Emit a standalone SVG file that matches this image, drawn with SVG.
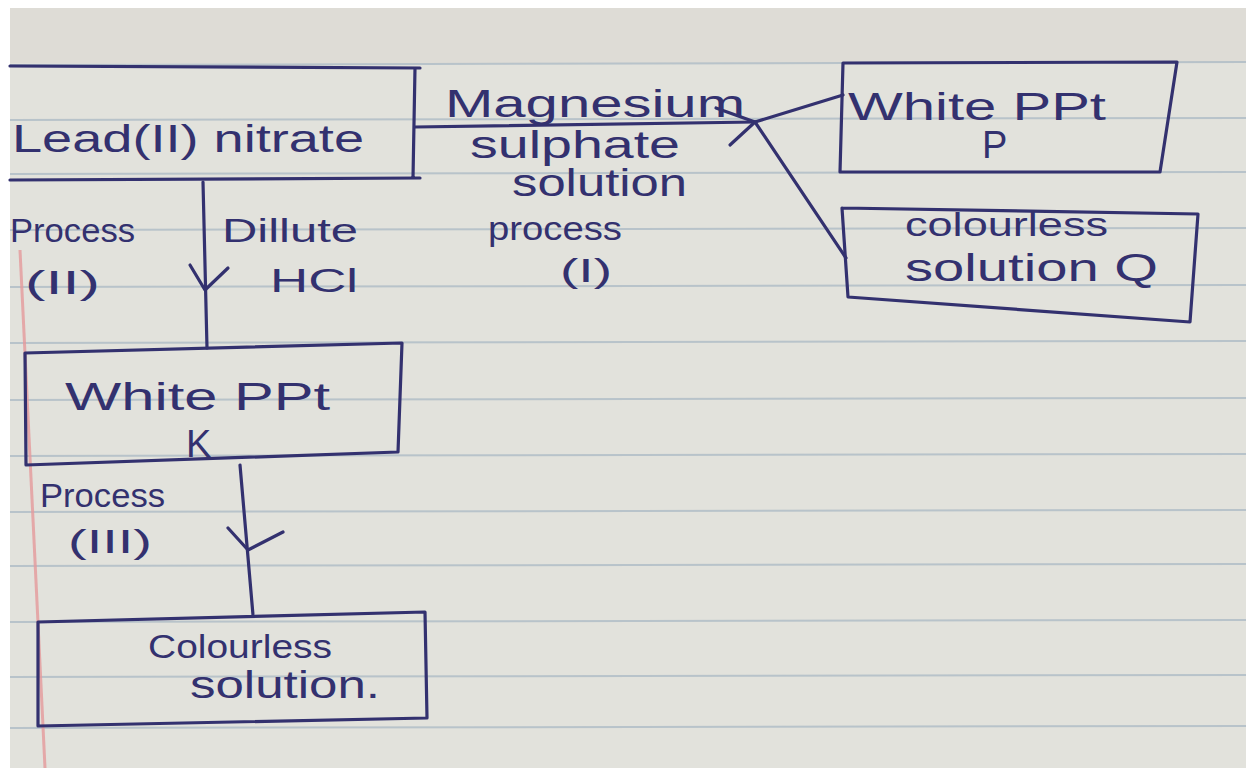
<svg xmlns="http://www.w3.org/2000/svg" width="1246" height="771" viewBox="0 0 1246 771">
<style>
.ink{fill:none;stroke:#33316f;stroke-width:3.2;stroke-linecap:round;stroke-linejoin:round}
.rule{stroke:#aebcc6;stroke-width:2;opacity:0.8}
text{font-family:"Liberation Sans","DejaVu Sans",sans-serif;fill:#33316f;font-size:38px}
.sm{font-size:34px}
</style>
<rect x="0" y="0" width="1246" height="771" fill="#ffffff"/>
<rect x="10" y="8" width="1236" height="760" fill="#e2e2dc"/>
<rect x="10" y="8" width="1236" height="55" fill="#dedcd6"/>
<g id="ruled-lines">
<line class="rule" x1="10" y1="65" x2="1246" y2="62"/>
<line class="rule" x1="10" y1="120" x2="1246" y2="118"/>
<line class="rule" x1="10" y1="174" x2="1246" y2="172"/>
<line class="rule" x1="10" y1="230" x2="1246" y2="228"/>
<line class="rule" x1="10" y1="287" x2="1246" y2="285"/>
<line class="rule" x1="10" y1="343" x2="1246" y2="341"/>
<line class="rule" x1="10" y1="400" x2="1246" y2="398"/>
<line class="rule" x1="10" y1="456" x2="1246" y2="454"/>
<line class="rule" x1="10" y1="512" x2="1246" y2="510"/>
<line class="rule" x1="10" y1="566" x2="1246" y2="564"/>
<line class="rule" x1="10" y1="622" x2="1246" y2="620"/>
<line class="rule" x1="10" y1="677" x2="1246" y2="675"/>
<line class="rule" x1="10" y1="728" x2="1246" y2="726"/>
<line x1="20" y1="250" x2="45" y2="768" stroke="#e59a9c" stroke-width="3" opacity="0.8"/>
</g>
<g id="connectors">
<path class="ink" d="M415 127 L755 122"/>
<path class="ink" d="M716 108 L755 122 L730 145"/>
<path class="ink" d="M755 122 L843 95"/>
<path class="ink" d="M755 122 L846 258"/>
<path class="ink" d="M203 182 L207 348"/>
<path class="ink" d="M190 265 L205 290 L228 268"/>
<path class="ink" d="M240 465 L253 615"/>
<path class="ink" d="M228 528 L248 550 L283 532"/>
</g>
<g id="node-lead-nitrate">
<path class="ink" d="M10 66 L420 68 M415 68 L413 178 M10 180 L420 178"/>
<text x="12" y="152" textLength="352" lengthAdjust="spacingAndGlyphs">Lead(II) nitrate</text>
</g>
<g id="label-magnesium">
<text x="445" y="117" textLength="300" lengthAdjust="spacingAndGlyphs">Magnesium</text>
<text x="470" y="158" textLength="210" lengthAdjust="spacingAndGlyphs">sulphate</text>
<text x="512" y="196" textLength="175" lengthAdjust="spacingAndGlyphs">solution</text>
<text class="sm" x="488" y="240" textLength="134" lengthAdjust="spacingAndGlyphs">process</text>
<text class="sm" x="560" y="282" textLength="52" lengthAdjust="spacingAndGlyphs">(I)</text>
</g>
<g id="node-white-ppt-p">
<path class="ink" d="M843 63 L1177 62 L1160 172 L840 172 L843 63"/>
<text x="848" y="120" textLength="258" lengthAdjust="spacingAndGlyphs">White PPt</text>
<text x="982" y="158">P</text>
</g>
<g id="node-colourless-q">
<path class="ink" d="M842 208 L1198 214 L1190 322 L848 297 L842 208"/>
<text class="sm" x="905" y="236" textLength="203" lengthAdjust="spacingAndGlyphs">colourless</text>
<text x="905" y="281" textLength="253" lengthAdjust="spacingAndGlyphs">solution Q</text>
</g>
<g id="label-process-ii">
<text class="sm" x="10" y="242" textLength="125" lengthAdjust="spacingAndGlyphs">Process</text>
<text class="sm" x="25" y="294" textLength="75" lengthAdjust="spacingAndGlyphs">(II)</text>
<text class="sm" x="222" y="242" textLength="136" lengthAdjust="spacingAndGlyphs">Dillute</text>
<text class="sm" x="270" y="292" textLength="88" lengthAdjust="spacingAndGlyphs">HCl</text>
</g>
<g id="node-white-ppt-k">
<path class="ink" d="M25 353 L402 343 L398 452 L26 465 Z"/>
<text x="65" y="410" textLength="265" lengthAdjust="spacingAndGlyphs">White PPt</text>
<text x="186" y="457">K</text>
</g>
<g id="label-process-iii">
<text class="sm" x="40" y="507" textLength="125" lengthAdjust="spacingAndGlyphs">Process</text>
<text class="sm" x="68" y="553" textLength="84" lengthAdjust="spacingAndGlyphs">(III)</text>
</g>
<g id="node-colourless-solution">
<path class="ink" d="M38 622 L425 612 L427 718 L38 726 Z"/>
<text class="sm" x="148" y="658" textLength="184" lengthAdjust="spacingAndGlyphs">Colourless</text>
<text x="190" y="698" textLength="190" lengthAdjust="spacingAndGlyphs">solution.</text>
</g>
</svg>
